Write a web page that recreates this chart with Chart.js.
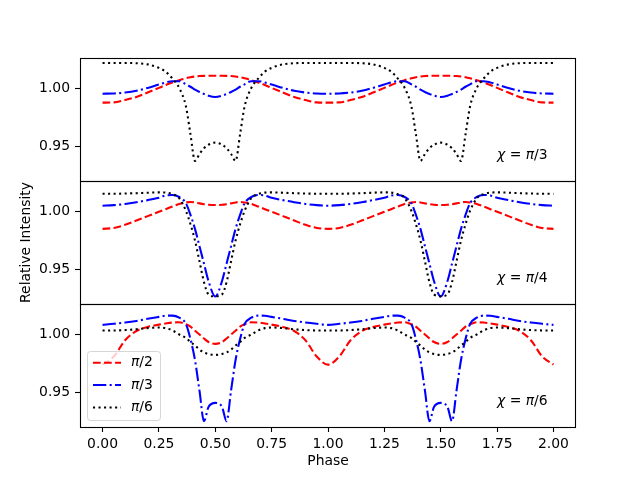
<!DOCTYPE html>
<html>
<head>
<meta charset="utf-8">
<script src="https://cdn.jsdelivr.net/npm/chart.js@4.4.0/dist/chart.umd.min.js"></script>
<style>
  body { margin: 0; background: #fff; }
  #wrap { position: relative; width: 640px; height: 480px; }
  #wrap canvas { position: absolute; left: 0; top: 0; }
</style>
</head>
<body>
<div id="wrap">
  <canvas id="top" width="640" height="480"></canvas>
  <canvas id="mid" width="640" height="480"></canvas>
  <canvas id="bot" width="640" height="480"></canvas>
</div>
<script>
// phases (denser near the dips)
var phase = [0, 0.05, 0.1, 0.15, 0.2, 0.25, 0.28, 0.31, 0.34, 0.37, 0.39, 0.41, 0.43, 0.45, 0.47, 0.5,
  0.53, 0.55, 0.57, 0.59, 0.61, 0.63, 0.66, 0.69, 0.72, 0.75, 0.8, 0.85, 0.9, 0.95,
  1, 1.05, 1.1, 1.15, 1.2, 1.25, 1.28, 1.31, 1.34, 1.37, 1.39, 1.41, 1.43, 1.45, 1.47, 1.5,
  1.53, 1.55, 1.57, 1.59, 1.61, 1.63, 1.66, 1.69, 1.72, 1.75, 1.8, 1.85, 1.9, 1.95, 2];
var xTicks = [0, 0.25, 0.5, 0.75, 1, 1.25, 1.5, 1.75, 2];
var yTicks = [0.95, 1.00];
var seriesNames = ['π/2', 'π/3', 'π/6'];
var panelLabels = ['χ = π/3', 'χ = π/4', 'χ = π/6'];

// chi = pi/3
var topPi2 = [0.9878, 0.988, 0.990, 0.9927, 0.9965, 1.0005, 1.003, 1.0052, 1.0072, 1.0088, 1.0097, 1.0103, 1.0107, 1.0109, 1.011, 1.011,
  1.011, 1.0109, 1.0107, 1.0103, 1.0097, 1.0088, 1.0072, 1.0052, 1.003, 1.0005, 0.9965, 0.9927, 0.990, 0.988,
  0.9878, 0.988, 0.990, 0.9927, 0.9965, 1.0005, 1.003, 1.0052, 1.0072, 1.0088, 1.0097, 1.0103, 1.0107, 1.0109, 1.011, 1.011,
  1.011, 1.0109, 1.0107, 1.0103, 1.0097, 1.0088, 1.0072, 1.0052, 1.003, 1.0005, 0.9965, 0.9927, 0.990, 0.988, 0.9878];
var topPi3 = [0.9955, 0.9957, 0.9965, 0.998, 1.0005, 1.0035, 1.0052, 1.0063, 1.0063, 1.0036, 1.0015, 0.999, 0.997, 0.9953, 0.9938, 0.9927,
  0.9938, 0.9953, 0.997, 0.999, 1.0015, 1.0036, 1.0063, 1.0063, 1.0052, 1.0035, 1.0005, 0.998, 0.9965, 0.9957,
  0.9955, 0.9957, 0.9965, 0.998, 1.0005, 1.0035, 1.0052, 1.0063, 1.0063, 1.0036, 1.0015, 0.999, 0.997, 0.9953, 0.9938, 0.9927,
  0.9938, 0.9953, 0.997, 0.999, 1.0015, 1.0036, 1.0063, 1.0063, 1.0052, 1.0035, 1.0005, 0.998, 0.9965, 0.9957, 0.9955];
var topPi6 = [1.022, 1.022, 1.022, 1.0218, 1.0208, 1.0178, 1.0145, 1.0085, 1.0005, 0.9845, 0.9605, 0.9375, 0.9435, 0.9485, 0.9515, 0.9533,
  0.9515, 0.9485, 0.9435, 0.9375, 0.9605, 0.9845, 1.0005, 1.0085, 1.0145, 1.0178, 1.0208, 1.0218, 1.022, 1.022,
  1.022, 1.022, 1.022, 1.0218, 1.0208, 1.0178, 1.0145, 1.0085, 1.0005, 0.9845, 0.9605, 0.9375, 0.9435, 0.9485, 0.9515, 0.9533,
  0.9515, 0.9485, 0.9435, 0.9375, 0.9605, 0.9845, 1.0005, 1.0085, 1.0145, 1.0178, 1.0208, 1.0218, 1.022, 1.022, 1.022];

// chi = pi/4
var midPi2 = [0.985, 0.9858, 0.9885, 0.9922, 0.996, 0.9998, 1.002, 1.0043, 1.0065, 1.0078, 1.0082, 1.0078, 1.007, 1.0063, 1.0058, 1.0056,
  1.0058, 1.0063, 1.007, 1.0078, 1.0082, 1.0078, 1.0065, 1.0043, 1.002, 0.9998, 0.996, 0.9922, 0.9885, 0.9858,
  0.985, 0.9858, 0.9885, 0.9922, 0.996, 0.9998, 1.002, 1.0043, 1.0065, 1.0078, 1.0082, 1.0078, 1.007, 1.0063, 1.0058, 1.0056,
  1.0058, 1.0063, 1.007, 1.0078, 1.0082, 1.0078, 1.0065, 1.0043, 1.002, 0.9998, 0.996, 0.9922, 0.9885, 0.9858, 0.985];
var midPi3 = [1.005, 1.0055, 1.0065, 1.008, 1.0098, 1.0118, 1.0138, 1.0142, 1.0125, 1.007, 0.997, 0.985, 0.970, 0.955, 0.940, 0.9267,
  0.940, 0.955, 0.970, 0.985, 0.997, 1.007, 1.0125, 1.0142, 1.0138, 1.0118, 1.0098, 1.008, 1.0065, 1.0055,
  1.005, 1.0055, 1.0065, 1.008, 1.0098, 1.0118, 1.0138, 1.0142, 1.0125, 1.007, 0.997, 0.985, 0.970, 0.955, 0.940, 0.9267,
  0.940, 0.955, 0.970, 0.985, 0.997, 1.007, 1.0125, 1.0142, 1.0138, 1.0118, 1.0098, 1.008, 1.0065, 1.0055, 1.005];
var midPi6 = [1.0153, 1.0153, 1.0155, 1.0158, 1.0162, 1.0165, 1.0163, 1.015, 1.0115, 1.0005, 0.989, 0.975, 0.957, 0.939, 0.9285, 0.9268,
  0.9285, 0.939, 0.957, 0.975, 0.989, 1.0005, 1.0115, 1.015, 1.0163, 1.0165, 1.0162, 1.0158, 1.0155, 1.0153,
  1.0153, 1.0153, 1.0155, 1.0158, 1.0162, 1.0165, 1.0163, 1.015, 1.0115, 1.0005, 0.989, 0.975, 0.957, 0.939, 0.9285, 0.9268,
  0.9285, 0.939, 0.957, 0.975, 0.989, 1.0005, 1.0115, 1.015, 1.0163, 1.0165, 1.0162, 1.0158, 1.0155, 1.0153, 1.0153];

// chi = pi/6
var botPi2 = [0.974, 0.981, 0.995, 1.003, 1.0065, 1.0085, 1.0095, 1.0103, 1.0105, 1.0088, 1.0068, 1.0032, 1.000, 0.9965, 0.9935, 0.9919,
  0.9935, 0.9965, 1.000, 1.0032, 1.0068, 1.0088, 1.0105, 1.0103, 1.0095, 1.0085, 1.0065, 1.003, 0.995, 0.981,
  0.974, 0.981, 0.995, 1.003, 1.0065, 1.0085, 1.0095, 1.0103, 1.0105, 1.0088, 1.0068, 1.0032, 1.000, 0.9965, 0.9935, 0.9919,
  0.9935, 0.9965, 1.000, 1.0032, 1.0068, 1.0088, 1.0105, 1.0103, 1.0095, 1.0085, 1.0065, 1.003, 0.995, 0.981, 0.974];
var botPi3 = [1.0083, 1.0092, 1.0103, 1.0117, 1.0135, 1.0152, 1.0162, 1.0163, 1.0145, 1.009, 0.996, 0.978, 0.9515, 0.9252, 0.9375, 0.941,
  0.9375, 0.9252, 0.9515, 0.978, 0.996, 1.009, 1.0145, 1.0163, 1.0162, 1.0152, 1.0135, 1.0117, 1.0103, 1.0092,
  1.0083, 1.0092, 1.0103, 1.0117, 1.0135, 1.0152, 1.0162, 1.0163, 1.0145, 1.009, 0.996, 0.978, 0.9515, 0.9252, 0.9375, 0.941,
  0.9375, 0.9252, 0.9515, 0.978, 0.996, 1.009, 1.0145, 1.0163, 1.0162, 1.0152, 1.0135, 1.0117, 1.0103, 1.0092, 1.0083];
var botPi6 = [1.0035, 1.0035, 1.0038, 1.0045, 1.0055, 1.006, 1.0055, 1.0035, 1.000, 0.997, 0.9935, 0.9905, 0.987, 0.9845, 0.9832, 0.9824,
  0.9832, 0.9845, 0.987, 0.9905, 0.9935, 0.997, 1.000, 1.0035, 1.0055, 1.006, 1.0055, 1.0045, 1.0038, 1.0035,
  1.0035, 1.0035, 1.0038, 1.0045, 1.0055, 1.006, 1.0055, 1.0035, 1.000, 0.997, 0.9935, 0.9905, 0.987, 0.9845, 0.9832, 0.9824,
  0.9832, 0.9845, 0.987, 0.9905, 0.9935, 0.997, 1.000, 1.0035, 1.0055, 1.006, 1.0055, 1.0045, 1.0038, 1.0035, 1.0035];

var colors = ['#ff0000', '#0000ff', '#000000'];
var LW = 2.08;
var dashes = [[7.7, 3.33], [13.3, 3.33, 2.08, 3.33], [2.08, 3.44]];
var FONT = '"DejaVu Sans"';

Chart.defaults.font.family = FONT;
Chart.defaults.font.size = 13.9;
Chart.defaults.color = '#000';

// greek letters in italic, like mathtext
function drawRich(ctx, text, x, y) {
    var pos = x;
    for (var i = 0; i < text.length; i++) {
        var ch = text[i];
        var greek = ch >= '\u0370' && ch <= '\u03ff';
        ctx.font = (greek ? 'italic ' : '') + '13.9px ' + FONT;
        ctx.fillText(ch, pos, y);
        pos += ctx.measureText(ch).width;
    }
}

var framePlugin = {
    id: 'frame',
    afterDatasetsDraw: function (chart, args, opts) {
        var ctx = chart.ctx, a = chart.chartArea;
        ctx.save();
        ctx.fillStyle = '#000';
        ctx.textBaseline = 'middle';
        ctx.textAlign = 'left';
        drawRich(ctx, opts.label, a.left + 417, a.bottom - 26);

        if (opts.legend) {
            var lx = a.left + 7, ly = a.bottom - 76;
            ctx.beginPath();
            ctx.roundRect(lx + 0.5, ly + 0.5, 73, 69, 3);
            ctx.fillStyle = 'rgba(255,255,255,0.8)';
            ctx.fill();
            ctx.strokeStyle = 'rgba(204,204,204,0.8)';
            ctx.lineWidth = 1;
            ctx.stroke();
            var rows = [11.7, 34, 56.5];
            chart.data.datasets.forEach(function (ds, i) {
                var yy = ly + rows[i];
                ctx.beginPath();
                ctx.setLineDash(ds.borderDash);
                ctx.strokeStyle = ds.borderColor;
                ctx.lineWidth = LW;
                ctx.moveTo(a.left + 13, yy);
                ctx.lineTo(a.left + 41, yy);
                ctx.stroke();
                ctx.setLineDash([]);
                ctx.fillStyle = '#000';
                drawRich(ctx, ds.label, a.left + 51, yy);
            });
        }

        ctx.strokeStyle = '#000';
        ctx.lineWidth = 1.1;
        ctx.setLineDash([]);
        ctx.strokeRect(Math.round(a.left) + 0.5, Math.round(a.top) + 0.5,
            Math.round(a.right - a.left) - 1, Math.round(a.bottom - a.top));
        ctx.restore();
    }
};

function makePanel(id, series, label, padTop, padBottom, isLast, isMid) {
    var datasets = series.map(function (vals, i) {
        return {
            label: seriesNames[i],
            data: vals.map(function (v, j) { return { x: phase[j], y: v }; }),
            borderColor: colors[i],
            borderDash: dashes[i],
            borderWidth: LW,
            pointRadius: 0,
            fill: false,
            cubicInterpolationMode: 'monotone',
            order: 3 - i
        };
    });
    return new Chart(document.getElementById(id), {
        type: 'line',
        data: { datasets: datasets },
        options: {
            responsive: false,
            animation: false,
            events: [],
            layout: { padding: { top: padTop, bottom: padBottom, left: 0, right: 64 } },
            plugins: {
                legend: { display: false },
                tooltip: { enabled: false },
                frame: { label: label, legend: isLast }
            },
            scales: {
                x: {
                    type: 'linear',
                    min: -0.1,
                    max: 2.1,
                    display: isLast,
                    afterFit: function (s) { s.height = isLast ? 53 : 0; },
                    afterBuildTicks: function (s) {
                        s.ticks = xTicks.map(function (v) { return { value: v }; });
                    },
                    ticks: {
                        padding: 4,
                        maxRotation: 0,
                        autoSkip: false,
                        callback: function (v) { return v.toFixed(2); }
                    },
                    grid: { drawOnChartArea: false, tickLength: 5, tickColor: '#000', tickWidth: 1.1 },
                    border: { display: false },
                    title: { display: true, text: 'Phase', padding: { top: 0, bottom: 10 } }
                },
                y: {
                    type: 'linear',
                    min: 0.9202,
                    max: 1.0263,
                    afterFit: function (s) { s.width = 80; },
                    afterBuildTicks: function (s) {
                        s.ticks = yTicks.map(function (v) { return { value: v }; });
                    },
                    ticks: {
                        padding: 5,
                        callback: function (v) { return v.toFixed(2); }
                    },
                    grid: { drawOnChartArea: false, tickLength: 5, tickColor: '#000', tickWidth: 1.1 },
                    border: { display: false },
                    title: { display: isMid, text: 'Relative Intensity', padding: { top: 18, bottom: 0 } }
                }
            }
        },
        plugins: [framePlugin]
    });
}

makePanel('top', [topPi2, topPi3, topPi6], panelLabels[0], 58, 299, false, false);
makePanel('mid', [midPi2, midPi3, midPi6], panelLabels[1], 181, 176, false, true);
makePanel('bot', [botPi2, botPi3, botPi6], panelLabels[2], 304, 0, true, false);
</script>
</body>
</html>
